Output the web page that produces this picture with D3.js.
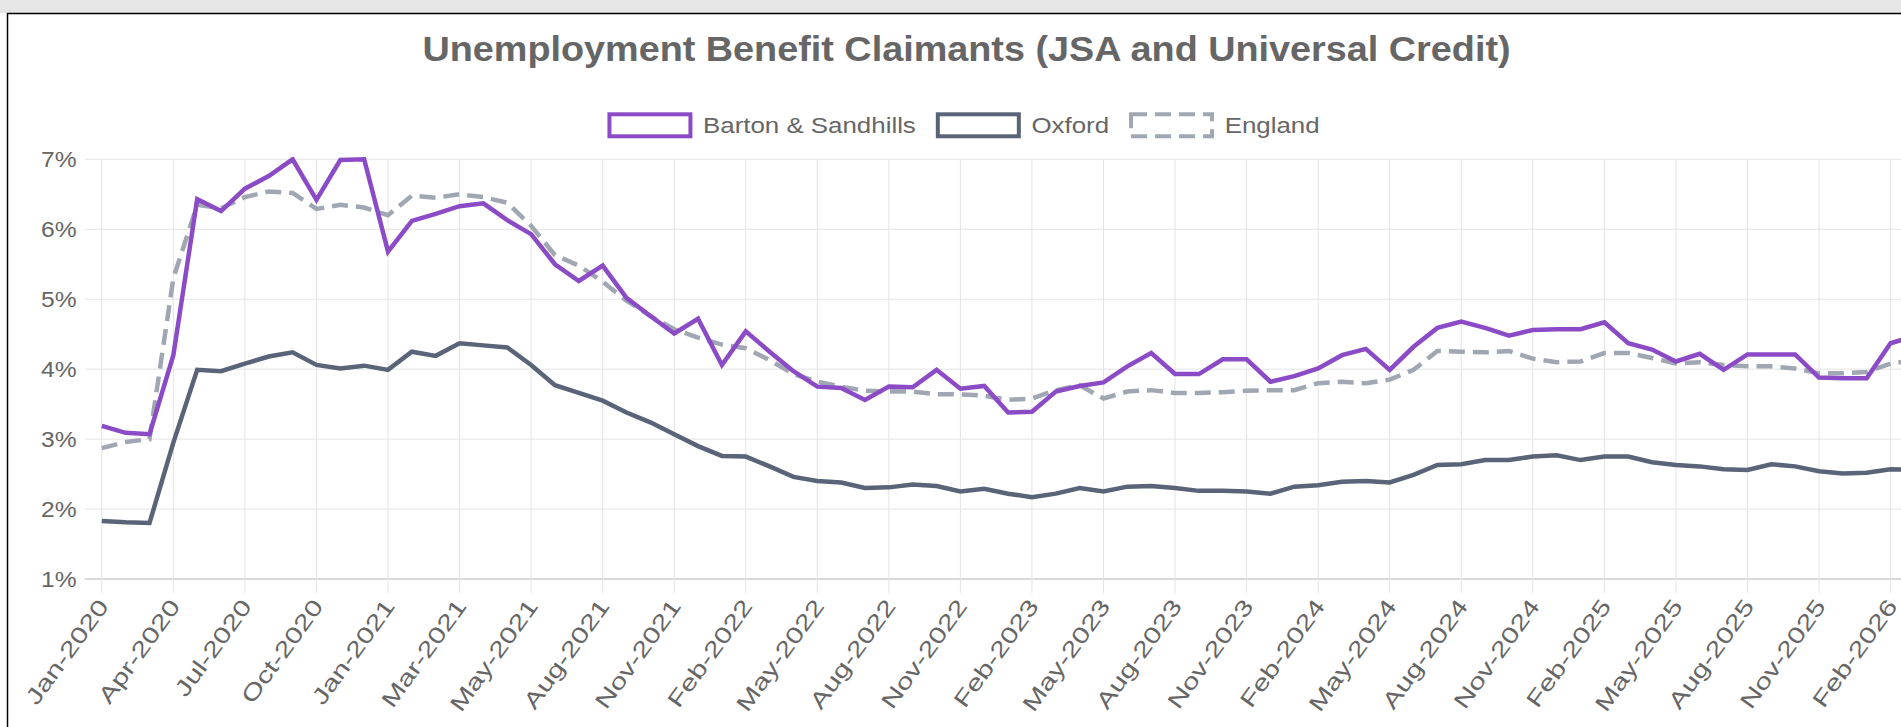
<!DOCTYPE html>
<html>
<head>
<meta charset="utf-8">
<script src="https://cdn.jsdelivr.net/npm/d3@7"></script>
<style>
  body { margin: 0; background: #fff; overflow: hidden; }
  svg { display: block; font-family: "Liberation Sans", Arial, sans-serif; }
</style>
</head>
<body>
<div id="chart"></div>
<script>
// month labels (the source repeats two early-2021 months)
const months = [
  "Jan-2020","Feb-2020","Mar-2020","Apr-2020","May-2020","Jun-2020","Jul-2020","Aug-2020","Sep-2020","Oct-2020","Nov-2020","Dec-2020",
  "Jan-2021","Feb-2021","Feb-2021","Mar-2021","Apr-2021","Apr-2021","May-2021","Jun-2021","Jul-2021","Aug-2021","Sep-2021","Oct-2021","Nov-2021","Dec-2021",
  "Jan-2022","Feb-2022","Mar-2022","Apr-2022","May-2022","Jun-2022","Jul-2022","Aug-2022","Sep-2022","Oct-2022","Nov-2022","Dec-2022",
  "Jan-2023","Feb-2023","Mar-2023","Apr-2023","May-2023","Jun-2023","Jul-2023","Aug-2023","Sep-2023","Oct-2023","Nov-2023","Dec-2023",
  "Jan-2024","Feb-2024","Mar-2024","Apr-2024","May-2024","Jun-2024","Jul-2024","Aug-2024","Sep-2024","Oct-2024","Nov-2024","Dec-2024",
  "Jan-2025","Feb-2025","Mar-2025","Apr-2025","May-2025","Jun-2025","Jul-2025","Aug-2025","Sep-2025","Oct-2025","Nov-2025","Dec-2025",
  "Jan-2026","Feb-2026","Mar-2026"
];

const barton = [
  3.19,3.09,3.07,4.20,6.43,6.26,6.58,6.76,7.00,6.42,6.99,7.00,
  5.68,6.12,6.22,6.33,6.37,6.13,5.93,5.50,5.26,5.48,5.02,4.76,4.51,4.72,
  4.06,4.54,4.25,3.97,3.75,3.73,3.56,3.75,3.74,3.99,3.72,3.76,
  3.38,3.39,3.68,3.76,3.81,4.04,4.23,3.93,3.93,4.14,4.14,3.82,
  3.90,4.01,4.20,4.29,3.99,4.32,4.59,4.68,4.59,4.48,4.56,4.57,
  4.57,4.67,4.37,4.28,4.11,4.22,3.99,4.21,4.21,4.21,3.88,3.87,
  3.87,4.37,4.47
];

const oxford = [
  1.83,1.81,1.80,2.95,3.99,3.97,4.08,4.18,4.24,4.06,4.01,4.05,
  3.99,4.25,4.19,4.37,4.34,4.31,4.06,3.77,3.66,3.55,3.38,3.24,3.07,2.90,
  2.76,2.75,2.61,2.46,2.40,2.38,2.30,2.31,2.35,2.33,2.25,2.29,
  2.22,2.17,2.22,2.30,2.25,2.32,2.33,2.30,2.26,2.26,2.25,2.22,
  2.32,2.34,2.39,2.40,2.38,2.49,2.63,2.64,2.70,2.70,2.75,2.77,
  2.70,2.75,2.75,2.67,2.63,2.61,2.57,2.56,2.64,2.61,2.54,2.51,
  2.52,2.57,2.56
];

const england = [
  2.87,2.96,3.00,5.30,6.35,6.30,6.46,6.54,6.52,6.29,6.35,6.31,
  6.20,6.48,6.45,6.50,6.46,6.38,6.05,5.63,5.48,5.25,4.98,4.76,4.57,4.45,
  4.35,4.30,4.13,3.93,3.82,3.75,3.69,3.68,3.68,3.64,3.64,3.62,
  3.56,3.58,3.70,3.77,3.58,3.68,3.70,3.66,3.66,3.67,3.69,3.70,
  3.70,3.80,3.82,3.80,3.85,3.99,4.26,4.25,4.24,4.26,4.15,4.10,
  4.11,4.23,4.23,4.16,4.08,4.10,4.06,4.04,4.04,4.01,3.94,3.94,
  3.96,4.08,4.13
];

const seriesNames = ["Barton & Sandhills", "Oxford", "England"];
const yTicks = [1, 2, 3, 4, 5, 6, 7];
const title = "Unemployment Benefit Claimants (JSA and Universal Credit)";

const colors = ["#8c4bc6", "#5a6478", "#a0a7b2"];
const dashes = [null, null, "16 8"];
const series = [barton, oxford, england];

const W = 1901, H = 727;
const area = {left: 101.8, right: 1914.4, top: 159.3, bottom: 579};
const textCol = "#666";

const svg = d3.select("#chart").append("svg")
    .attr("width", W)
    .attr("height", H);

// page strip + bordered container
svg.append("rect").attr("x", 0).attr("y", 0).attr("width", W).attr("height", 13).attr("fill", "#e6e6e6");
svg.append("rect").attr("x", 7.5).attr("y", 13.5).attr("width", 1940).attr("height", 800)
    .attr("fill", "#fff").attr("stroke", "#000").attr("stroke-width", 1.5);

const x = d3.scaleLinear().domain([0, months.length - 1]).range([area.left, area.right]);
const y = d3.scaleLinear().domain([1, 7]).range([area.bottom, area.top]);

// stretched text helper (reference text is wider than plain Arial)
function stretchedText(parent, px, py, sx, str, opts) {
    let g = parent.append("g").attr("transform", "translate(" + px + "," + py + ")" + (opts.rotate ? " rotate(" + opts.rotate + ")" : "") + " scale(" + sx + ",1)");
    let t = g.append("text").text(str)
        .attr("fill", textCol)
        .attr("font-size", opts.size)
        .attr("text-anchor", opts.anchor || "start");
    if (opts.bold) t.attr("font-weight", "bold");
    if (opts.baseline) t.attr("dominant-baseline", opts.baseline);
    return t;
}

// title
stretchedText(svg, 966.5, 61, 1.08, title, {size: 35, bold: true, anchor: "middle"});

// grid
const grid = svg.append("g");
const xTickIdx = d3.range(0, months.length, 3);

grid.selectAll(".hgrid").data(yTicks).enter().append("line")
    .attr("x1", area.left - 17).attr("x2", area.right)
    .attr("y1", d => y(d)).attr("y2", d => y(d))
    .attr("stroke", d => d === 1 ? "#d9d9d9" : "#e4e4e4")
    .attr("stroke-width", d => d === 1 ? 2 : 1);

grid.selectAll(".vgrid").data(xTickIdx).enter().append("line")
    .attr("x1", d => x(d)).attr("x2", d => x(d))
    .attr("y1", area.top).attr("y2", area.bottom + 14)
    .attr("stroke", "#e4e4e4").attr("stroke-width", 1);

// y tick labels
yTicks.forEach(v => {
    stretchedText(svg, 76.7, y(v) + 7.5, 1.12, v + "%", {size: 22, anchor: "end"});
});

// x tick labels, rotated
xTickIdx.forEach(i => {
    stretchedText(svg, x(i) + 3, 603, 1.32, months[i], {size: 22.5, anchor: "end", rotate: -54, baseline: "middle"});
});

// lines
svg.append("clipPath").attr("id", "plotclip").append("rect")
    .attr("x", area.left - 3).attr("y", area.top - 2.5)
    .attr("width", area.right - area.left + 6).attr("height", area.bottom - area.top + 5);

const line = d3.line().x((d, i) => x(i)).y(d => y(d));
const lines = svg.append("g").attr("clip-path", "url(#plotclip)");

// last dataset drawn first, like the original
[2, 1, 0].forEach(k => {
    lines.append("path")
        .datum(series[k])
        .attr("d", line)
        .attr("fill", "none")
        .attr("stroke", colors[k])
        .attr("stroke-width", 4.5)
        .attr("stroke-linejoin", "miter")
        .attr("stroke-dasharray", dashes[k]);
});

// legend
const legend = svg.append("g");
const boxW = 85, boxH = 26, legY = 112.3, legSx = 1.15;
let items = seriesNames.map((name, k) => {
    let g = legend.append("g");
    g.append("rect")
        .attr("x", 2).attr("y", legY + 2).attr("width", boxW - 4).attr("height", boxH - 4)
        .attr("fill", "#fff").attr("stroke", colors[k]).attr("stroke-width", 4)
        .attr("stroke-dasharray", dashes[k]);
    let t = stretchedText(g, boxW + 10.6, legY + 21, legSx, name, {size: 22.5});
    let w = boxW + 10.6 + t.node().getComputedTextLength() * legSx;
    return {g: g, w: w};
});
let total = d3.sum(items, d => d.w) + 20 * (items.length - 1);
let cx = 963.5 - total / 2;
items.forEach(it => {
    it.g.attr("transform", "translate(" + cx + ",0)");
    cx += it.w + 20;
});
</script>
</body>
</html>
